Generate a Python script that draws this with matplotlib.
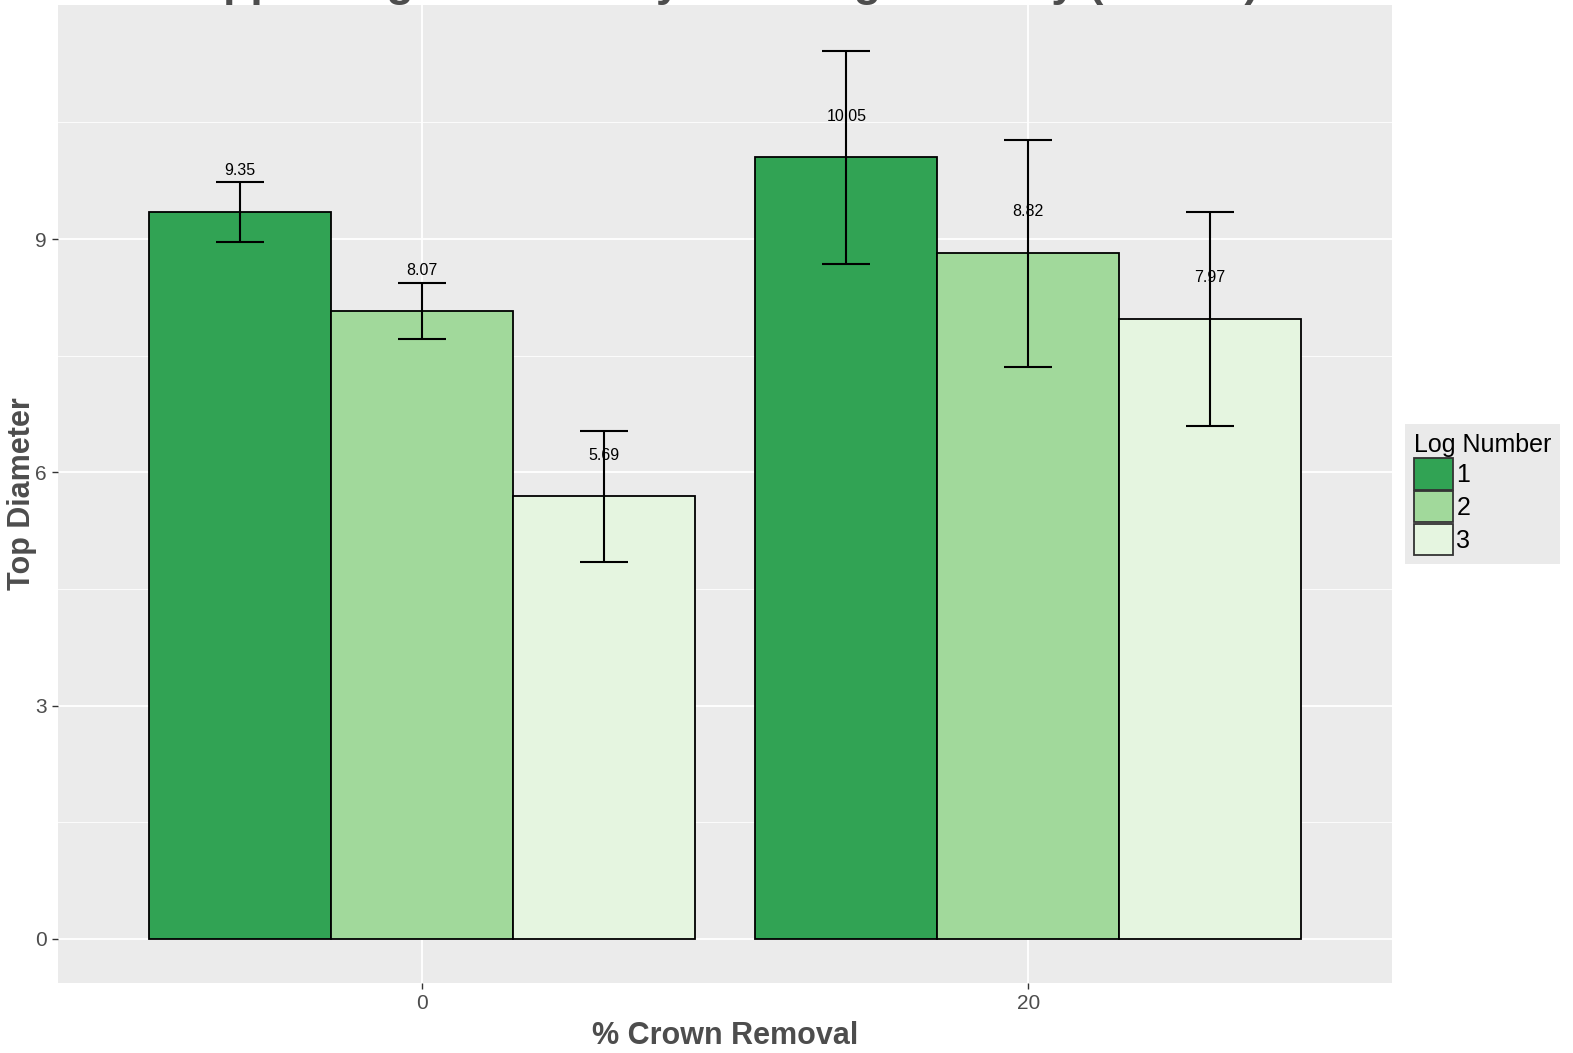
import numpy as np
import matplotlib
matplotlib.use("Agg")
from matplotlib import pyplot as plt
from matplotlib.patches import Patch

plt.rcParams['font.family'] = ['Liberation Sans', 'DejaVu Sans']

# data
crown_removal = ["0", "20"]
log_numbers = ["1", "2", "3"]
top_diameter = {
    "1": [9.35, 10.05],
    "2": [8.07, 8.82],
    "3": [5.69, 7.97],
}
diameter_se = {
    "1": [0.39, 1.37],
    "2": [0.36, 1.46],
    "3": [0.84, 1.38],
}
colors = ["#31a354", "#a1d99b", "#e5f5e0"]

fig = plt.figure(figsize=(15.73, 10.53), dpi=100)
ax = fig.add_axes([58 / 1573, 1 - 983 / 1053, (1392 - 58) / 1573, (983 - 5) / 1053])
ax.set_facecolor("#EBEBEB")

bar_width = 0.3
x = np.arange(len(crown_removal))
for i, ln in enumerate(log_numbers):
    xs = x + (i - 1) * bar_width
    ax.bar(xs, top_diameter[ln], width=bar_width, color=colors[i],
           edgecolor="black", linewidth=1.3, zorder=3)
    ax.errorbar(xs, top_diameter[ln], yerr=diameter_se[ln], fmt="none",
                ecolor="black", elinewidth=1.5, capsize=17, capthick=1.5, zorder=4)
    for xx, v in zip(xs, top_diameter[ln]):
        ax.text(xx, v + 0.53, "%.2f" % v, ha="center", va="center",
                fontsize=11.5, color="black", zorder=5)

ax.set_xlim(-0.6, 1.6)
ax.set_ylim(-0.566, 12.01)
ax.set_xticks(x)
ax.set_xticklabels(crown_removal)
ax.set_yticks([0, 3, 6, 9])
ax.set_yticks([1.5, 4.5, 7.5, 10.5], minor=True)
ax.grid(which="major", color="white", linewidth=1.3, zorder=0)
ax.grid(which="minor", color="white", linewidth=0.6, zorder=0)
ax.tick_params(which="major", length=4, width=1, color="#333333",
               labelsize=15, labelcolor="#4D4D4D", pad=4)
ax.tick_params(which="minor", length=0)
for s in ax.spines.values():
    s.set_visible(False)

ax.set_xlabel("% Crown Removal", fontsize=22, fontweight="bold", color="#4D4D4D", labelpad=6)
ax.set_ylabel("Top Diameter", fontsize=22, fontweight="bold", color="#4D4D4D")
ax.yaxis.set_label_coords(22 / 1573, 1 - 494 / 1053, transform=fig.transFigure)
ax.yaxis.label.set_va("center")

# title (cut off at top of image)
fig.text(725 / 1573, 1 + 4 / 1053, "Upper Log Diameter by Thinning Intensity (inches)",
         ha="center", va="baseline", fontsize=32, fontweight="bold", color="#4D4D4D")

handles = [Patch(facecolor=c, edgecolor="#333333", linewidth=1.3) for c in colors]
leg = fig.legend(handles, log_numbers, title="Log Number", loc="center left",
                 bbox_to_anchor=(1405 / 1573, 1 - 494 / 1053),
                 fontsize=18, title_fontsize=18, frameon=True, fancybox=False,
                 handlelength=1.55, handleheight=1.55, handletextpad=0.15,
                 labelspacing=0.06, borderpad=0.35, borderaxespad=0)
leg.get_frame().set_facecolor("#E5E5E5")
leg.get_frame().set_edgecolor("none")
leg._legend_box.align = "left"

fig.savefig("out.png", dpi=100)
